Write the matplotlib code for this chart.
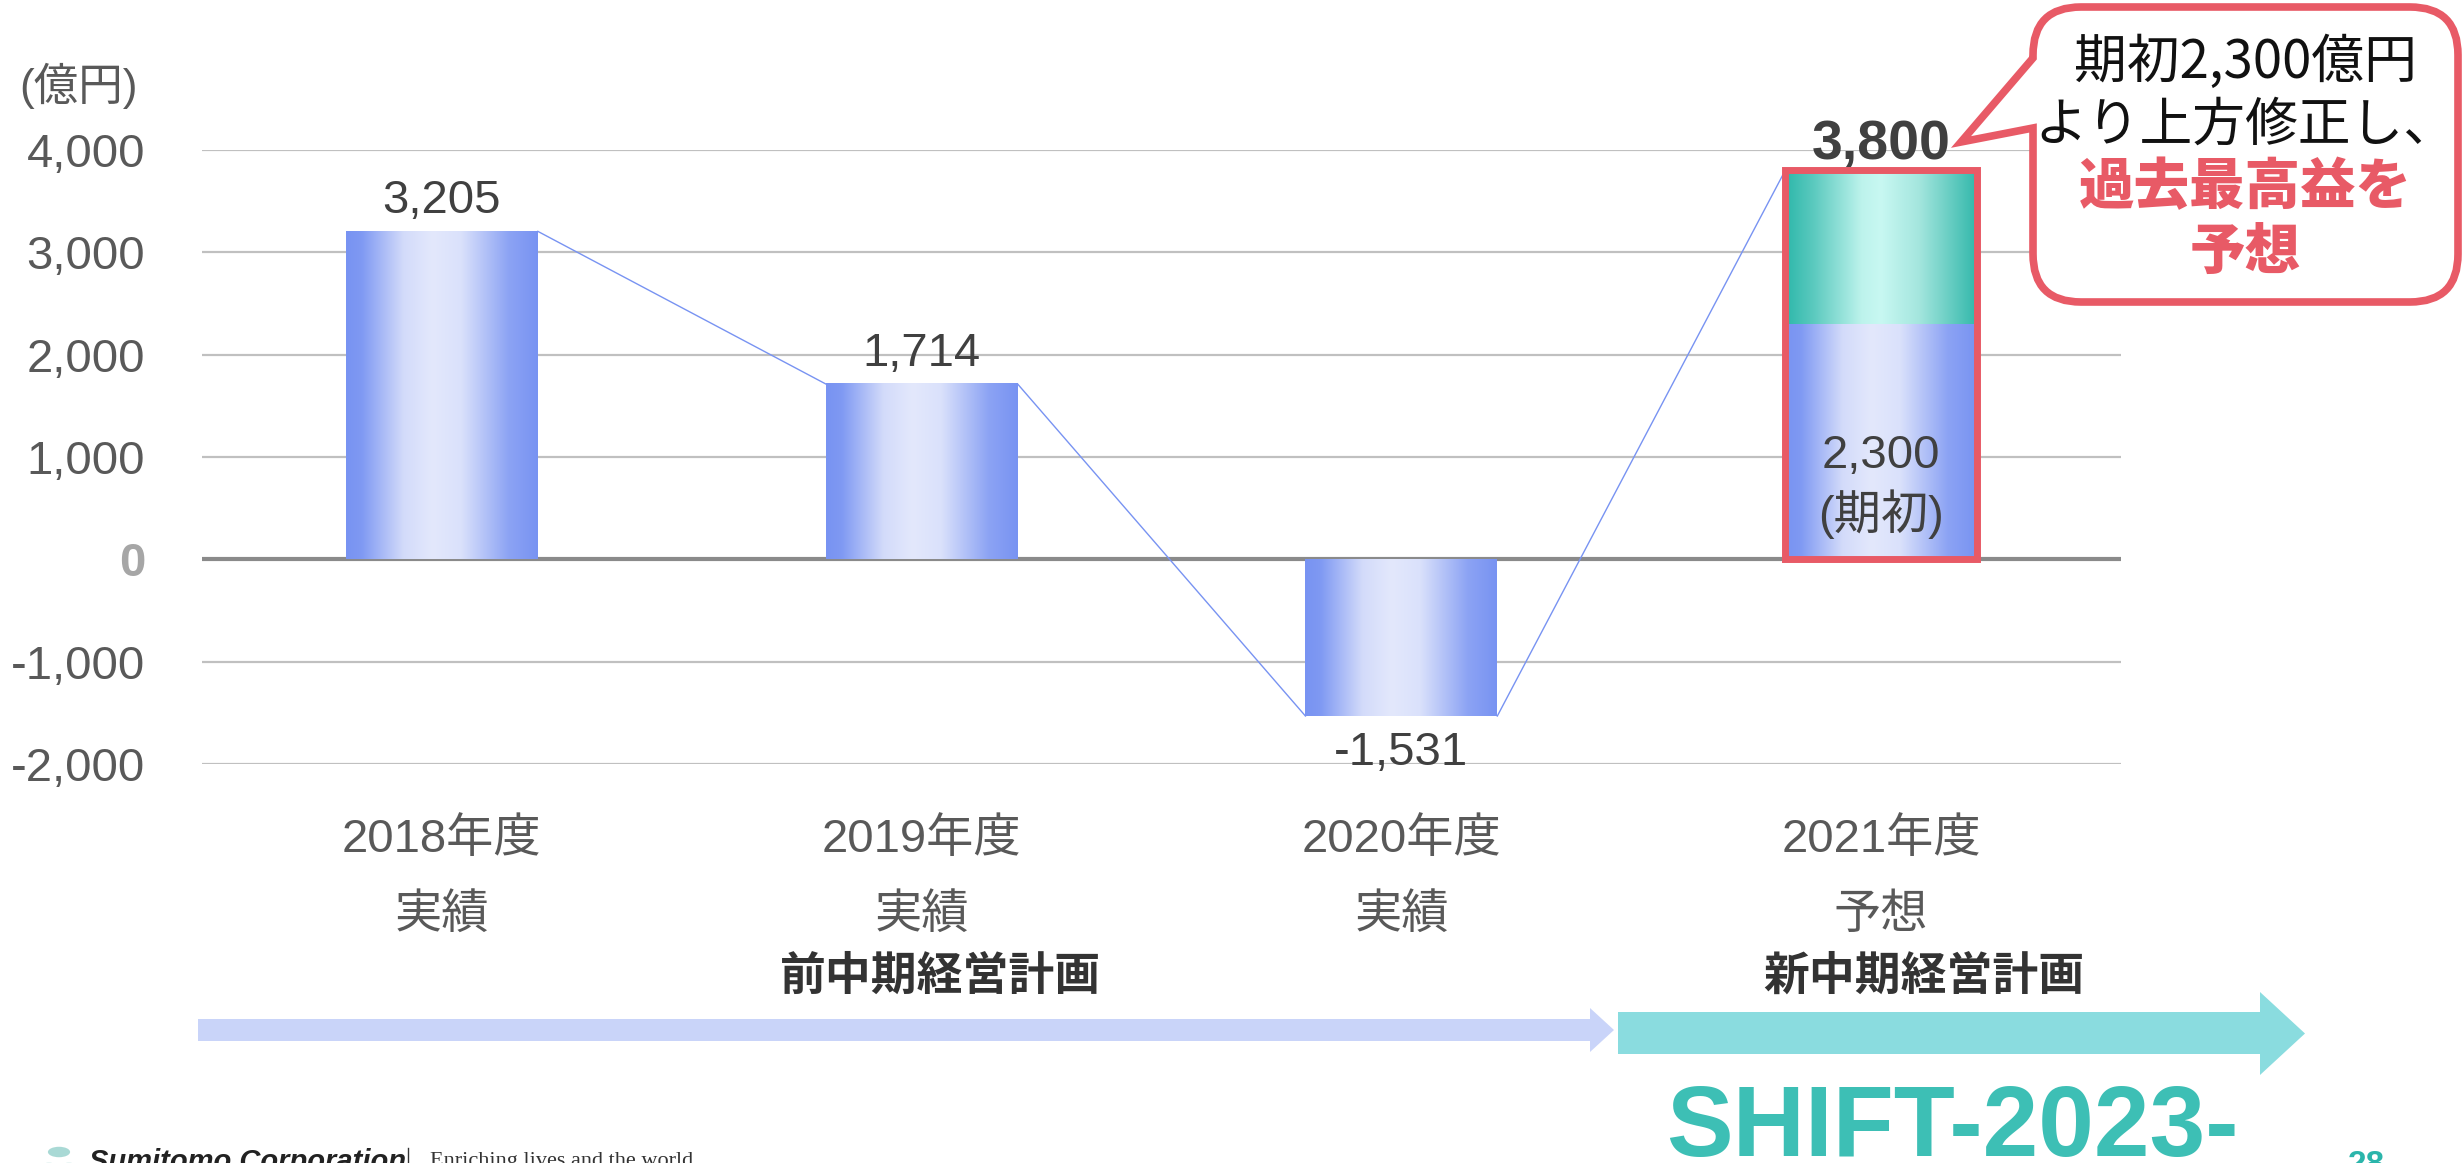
import numpy as np
import matplotlib.pyplot as plt
from matplotlib import font_manager
from matplotlib.colors import LinearSegmentedColormap
from matplotlib.path import Path
from matplotlib.patches import PathPatch, Polygon, Circle
from matplotlib.transforms import blended_transform_factory

# データ（億円）
years = ['2018年度', '2019年度', '2020年度', '2021年度']
status = ['実績', '実績', '実績', '予想']
profit = [3205, 1714, -1531]
initial_2021 = 2300
forecast_2021 = 3800
yticks = [-2000, -1000, 0, 1000, 2000, 3000, 4000]
plan_old = '前中期経営計画'
plan_new = '新中期経営計画'
callout_lines = ['期初2,300億円', 'より上方修正し、', '過去最高益を', '予想']

W, H = 2463, 1163
JP = ['Liberation Sans', 'Noto Sans CJK JP']
plt.rcParams['font.family'] = JP


def fx(px):
    return px / W


def fy(px):
    return 1 - px / H


fig = plt.figure(figsize=(W / 100, H / 100), dpi=100)
ax = fig.add_axes([fx(202), fy(764), fx(2121) - fx(202), fy(150) - fy(764)])

blue_cmap = LinearSegmentedColormap.from_list('blue', [
    (0.0, '#7893F2'), (0.08, '#7F99F3'), (0.3, '#D3DBFA'), (0.45, '#E3E8FC'),
    (0.6, '#DAE1FB'), (0.85, '#8CA3F4'), (1.0, '#7893F2')])
teal_cmap = LinearSegmentedColormap.from_list('teal', [
    (0.0, '#2DB7AA'), (0.15, '#5CCABF'), (0.4, '#BDF3EC'), (0.5, '#C8F8F2'),
    (0.7, '#A4E6DE'), (1.0, '#33B8AB')])
grad = np.linspace(0, 1, 256).reshape(1, -1)

x = np.arange(len(years))
width = 0.4

bars = ax.bar(x[:3], profit, width, color='none', edgecolor='none', zorder=2)
bars_lo = ax.bar(x[3], initial_2021, width, color='none', edgecolor='none', zorder=2)
bars_hi = ax.bar(x[3], forecast_2021 - initial_2021, width, bottom=initial_2021,
                 color='none', edgecolor='none', zorder=2)


def fill_gradient(patch, cmap):
    bb = patch.get_bbox()
    ax.imshow(grad, extent=[bb.x0, bb.x1, bb.y0, bb.y1], aspect='auto',
              cmap=cmap, zorder=2, interpolation='bicubic')


for b in list(bars) + list(bars_lo):
    fill_gradient(b, blue_cmap)
for b in bars_hi:
    fill_gradient(b, teal_cmap)

# 赤枠
ax.bar(x[3], forecast_2021, width, fill=False, edgecolor='#E85A66', linewidth=5, zorder=4)

# 連結線
vals = profit + [forecast_2021]
for i in range(len(vals) - 1):
    ax.plot([x[i] + width / 2, x[i + 1] - width / 2], [vals[i], vals[i + 1]],
            color='#7893F2', lw=1, zorder=3)

# 値ラベル
for xi, v in zip(x[:3], profit):
    off = 30 if v > 0 else -37
    ax.annotate(f'{v:,}', (xi, v), xytext=(0, off), textcoords='offset pixels',
                ha='center', va='center', fontsize=34, color='#404040')
ax.annotate(f'{forecast_2021:,}', (x[3], forecast_2021), xytext=(0, 25),
            textcoords='offset pixels', ha='center', va='center', fontsize=40,
            fontweight='bold', color='#404040')
ax.text(x[3], 1010, f'{initial_2021:,}', ha='center', va='center', fontsize=34, color='#404040', zorder=5)
ax.text(x[3], 440, '(期初)', ha='center', va='center', fontsize=34, color='#404040', zorder=5)

# 軸
ax.set_xlim(-0.5, 3.5)
ax.set_ylim(-2000, 4000)
ax.set_yticks(yticks)
ax.set_yticklabels([f'{t:,}' for t in yticks], fontsize=34, color='#595959')
for lab, t in zip(ax.get_yticklabels(), yticks):
    if t == 0:
        lab.set_fontweight('bold')
        lab.set_color('#A6A6A6')
ax.tick_params(axis='y', length=0, pad=41)
ax.set_xticks([])
for s in ax.spines.values():
    s.set_visible(False)
ax.grid(axis='y', color='#C0C0C0', lw=1.6, zorder=0)
ax.set_axisbelow(True)
ax.axhline(0, color='#8A8A8A', lw=3, zorder=1)

fig.text(fx(19), fy(86), '(億円)', fontsize=32, color='#595959', ha='left', va='center')

# カテゴリラベル
tr = blended_transform_factory(ax.transData, fig.transFigure)
for xi, yl, st in zip(x, years, status):
    ax.text(xi, fy(840), yl, transform=tr, ha='center', va='center', fontsize=34, color='#595959')
    ax.text(xi, fy(916), st, transform=tr, ha='center', va='center', fontsize=34, color='#595959')
ax.text(1.04, fy(978), plan_old, transform=tr, ha='center', va='center', fontsize=33,
        fontweight='bold', color='#333333')
ax.text(3.09, fy(978), plan_new, transform=tr, ha='center', va='center', fontsize=33,
        fontweight='bold', color='#333333')


def arrow(x0, x1, xh, yb0, yb1, yh0, yh1, color):
    pts = [(x0, yb0), (xh, yb0), (xh, yh0), (x1, (yh0 + yh1) / 2), (xh, yh1), (xh, yb1), (x0, yb1)]
    poly = Polygon([(fx(a), fy(b)) for a, b in pts], closed=True, transform=fig.transFigure,
                   facecolor=color, edgecolor='none')
    fig.add_artist(poly)


arrow(198, 1614, 1590, 1019, 1041, 1008, 1052, '#C9D4F9')
arrow(1618, 2305, 2260, 1012, 1054, 992, 1075, '#8ADCDF')

# 吹き出し
x0, x1, y0, y1, r = 2033, 2458, 7, 302, 48
verts = [(x0 + r, y0), (x1 - r, y0), (x1, y0), (x1, y0 + r), (x1, y1 - r), (x1, y1), (x1 - r, y1),
         (x0 + r, y1), (x0, y1), (x0, y1 - r), (x0, 128), (1961, 142), (x0, 58), (x0, y0 + r),
         (x0, y0), (x0 + r, y0), (x0 + r, y0)]
codes = [Path.MOVETO, Path.LINETO, Path.CURVE3, Path.CURVE3, Path.LINETO, Path.CURVE3, Path.CURVE3,
         Path.LINETO, Path.CURVE3, Path.CURVE3, Path.LINETO, Path.LINETO, Path.LINETO, Path.LINETO,
         Path.CURVE3, Path.CURVE3, Path.CLOSEPOLY]
path = Path([(fx(a), fy(b)) for a, b in verts], codes)
fig.add_artist(PathPatch(path, transform=fig.transFigure, facecolor='white',
                         edgecolor='#E85A66', lw=5.5, joinstyle='miter', zorder=5))
line_y = [62, 125, 188, 252]
for i, (txt, yy) in enumerate(zip(callout_lines, line_y)):
    red = i >= 2
    fig.text(fx(2245), fy(yy), txt, ha='center', va='center', fontsize=40 if red else 38,
             family=['Noto Sans CJK JP'], fontweight='heavy' if red else 'normal',
             color='#E85A66' if red else '#111111', zorder=6)

# ロゴ・フッター
names = {f.name for f in font_manager.fontManager.ttflist}
if 'Liberation Sans Narrow' in names:
    logo_font, logo_size = 'Liberation Sans Narrow', 86
else:
    logo_font, logo_size = 'Liberation Sans', 72
fig.text(fx(1666), fy(1156), 'SHIFT-2023-', fontsize=logo_size, fontweight='bold', color='#3DBFB5',
         family=logo_font, ha='left', va='baseline')
for cx, cy in [(59, 1152), (49, 1168), (69, 1168)]:
    fig.add_artist(Circle((fx(cx), fy(cy)), 0.0045, transform=fig.transFigure,
                          facecolor='#A9D9D5', edgecolor='none'))
fig.text(fx(89), fy(1148), 'Sumitomo Corporation', fontsize=21, style='italic', fontweight='bold',
         color='#222222', ha='left', va='top')
fig.add_artist(plt.Line2D([fx(408), fx(408)], [fy(1148), fy(1163)], transform=fig.transFigure,
                          color='#333333', lw=1))
fig.text(fx(430), fy(1152), 'Enriching lives and the world', fontsize=16, family='Liberation Serif',
         color='#333333', ha='left', va='top')
fig.text(fx(2348), fy(1150), '28', fontsize=24, fontweight='bold', color='#2BB5AB',
         ha='left', va='top')

fig.savefig('out.png', dpi=100, facecolor='white')
